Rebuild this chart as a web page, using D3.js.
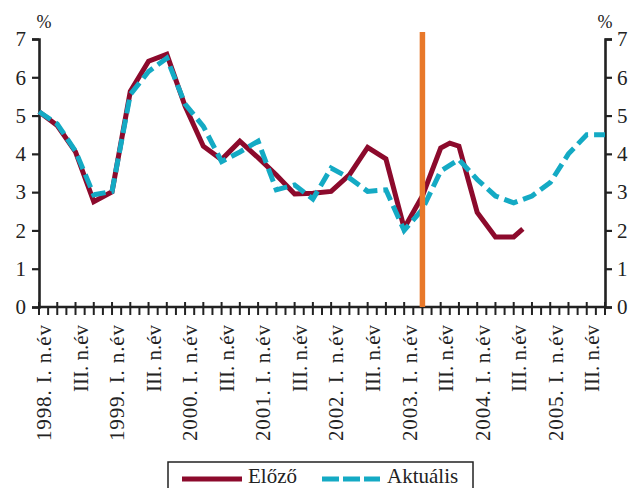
<!DOCTYPE html>
<html>
<head>
<meta charset="utf-8">
<script src="https://cdn.jsdelivr.net/npm/d3@7"></script>
<style>
  body { margin: 0; background: #fff; }
  svg text { font-family: "Liberation Serif", "DejaVu Serif", "Times New Roman", Times, serif !important; fill: #222; }
</style>
</head>
<body>
<svg id="chart" width="636" height="488"></svg>
<script>
// quarter index 0 = 1998 Q1 ... 31 = 2005 Q4
let xLabels = ["1998. I. n.év", "III. n.év", "1999. I. n.év", "III. n.év",
  "2000. I. n.év", "III. n.év", "2001. I. n.év", "III. n.év",
  "2002. I. n.év", "III. n.év", "2003. I. n.év", "III. n.év",
  "2004. I. n.év", "III. n.év", "2005. I. n.év", "III. n.év"];
let yTicks = [0, 1, 2, 3, 4, 5, 6, 7];

// Előző (previous forecast)
let prevQ = [0, 1, 2, 3, 4, 5, 6, 7, 8, 9, 10, 11, 12, 13, 14, 15, 16, 17, 18, 19, 20, 21, 22, 22.5, 23, 24, 25, 26, 26.5];
let prevVals = [5.1, 4.74, 4.05, 2.75, 3.01, 5.63, 6.42, 6.6, 5.25, 4.2, 3.85, 4.33, 3.9, 3.45, 2.95, 2.97, 3.02, 3.45, 4.17, 3.87, 2.06, 2.9, 4.15, 4.28, 4.2, 2.47, 1.83, 1.83, 2.04];

// Aktuális (current forecast)
let currVals = [5.1, 4.78, 4.07, 2.93, 3.02, 5.55, 6.15, 6.5, 5.3, 4.72, 3.8, 4.05, 4.33, 3.06, 3.19, 2.82, 3.63, 3.37, 3.02, 3.06, 2.0, 2.55, 3.55, 3.85, 3.33, 2.9, 2.72, 2.9, 3.25, 4.0, 4.5, 4.5];

let markerQ = 21; // vertical line at 2003 Q2

let svg = d3.select("#chart");
let mLeft = 39, mRight = 605, mTop = 39, mBottom = 307;
let serif = "'Liberation Serif', 'DejaVu Serif', serif";

let x = d3.scaleLinear().domain([0, 31]).range([mLeft, mRight]);
let y = d3.scaleLinear().domain([0, 7]).range([mBottom, mTop]);

// y axes
let yAxisL = d3.axisLeft(y).tickValues(yTicks).tickSize(7).tickPadding(6).tickFormat(d3.format("d"));
let yAxisR = d3.axisRight(y).tickValues(yTicks).tickSize(7).tickPadding(5).tickFormat(d3.format("d"));

let gl = svg.append("g").attr("transform", `translate(${mLeft},0)`).call(yAxisL);
let gr = svg.append("g").attr("transform", `translate(${mRight},0)`).call(yAxisR);
[gl, gr].forEach(g => {
  g.attr("font-family", serif).attr("font-size", 21);
  g.select(".domain").attr("stroke", "#222").attr("stroke-width", 2.6);
  g.selectAll(".tick line").attr("stroke", "#222").attr("stroke-width", 2.2);
  g.selectAll(".tick text").attr("fill", "#222");
});

// x axis line and ticks
let halfTicks = d3.range(0, 31.5, 0.5);
let gx = svg.append("g").attr("font-family", serif);
gx.append("line")
  .attr("x1", mLeft).attr("x2", mRight)
  .attr("y1", mBottom).attr("y2", mBottom)
  .attr("stroke", "#222").attr("stroke-width", 2.6);
gx.selectAll(".xt")
  .data(halfTicks)
  .enter().append("line")
  .attr("class", "xt")
  .attr("x1", d => x(d)).attr("x2", d => x(d))
  .attr("y1", d => d % 1 === 0 ? mBottom - 5 : mBottom)
  .attr("y2", mBottom + 8)
  .attr("stroke", "#222").attr("stroke-width", 2);

let xl = gx.selectAll(".xl")
  .data(xLabels)
  .enter().append("text")
  .attr("class", "xl")
  .attr("transform", (d, i) => `translate(${x(i * 2) + 5},325) rotate(-90)`)
  .attr("dy", "0.35em")
  .attr("text-anchor", "end")
  .attr("font-size", 21)
  .text(d => d);
// year labels are a bit wider in the original
xl.filter(d => /^\d/.test(d))
  .attr("textLength", 116)
  .attr("lengthAdjust", "spacing");

// % units
svg.append("text").attr("x", 44).attr("y", 28).attr("text-anchor", "middle").attr("font-size", 18).text("%");
svg.append("text").attr("x", 605).attr("y", 28).attr("text-anchor", "middle").attr("font-size", 18).text("%");

// lines
let prevData = prevQ.map((q, i) => [q, prevVals[i]]);
let currData = currVals.map((v, i) => [i, v]);
let line = d3.line().x(d => x(d[0])).y(d => y(d[1]));

svg.append("path")
  .datum(prevData)
  .attr("d", line)
  .attr("fill", "none")
  .attr("stroke", "#8C0A2C")
  .attr("stroke-width", 5)
  .attr("stroke-linejoin", "miter");

svg.append("path")
  .datum(currData)
  .attr("d", line)
  .attr("fill", "none")
  .attr("stroke", "#14AAC4")
  .attr("stroke-width", 5)
  .attr("stroke-dasharray", "14,6");

// vertical marker
svg.append("line")
  .attr("x1", x(markerQ)).attr("x2", x(markerQ))
  .attr("y1", 32).attr("y2", mBottom)
  .attr("stroke", "#E8782A").attr("stroke-width", 5.5);

// legend
let lg = svg.append("g").attr("font-family", serif);
lg.append("rect")
  .attr("x", 168).attr("y", 462).attr("width", 305).attr("height", 40)
  .attr("fill", "#fff").attr("stroke", "#222").attr("stroke-width", 1.5);
lg.append("line").attr("x1", 182).attr("x2", 242).attr("y1", 479).attr("y2", 479)
  .attr("stroke", "#8C0A2C").attr("stroke-width", 5);
lg.append("text").attr("x", 248).attr("y", 483).attr("font-size", 21).text("Előző");
lg.append("line").attr("x1", 322).attr("x2", 380).attr("y1", 479).attr("y2", 479)
  .attr("stroke", "#14AAC4").attr("stroke-width", 5).attr("stroke-dasharray", "17,4");
lg.append("text").attr("x", 387).attr("y", 483).attr("font-size", 21).text("Aktuális");
</script>
</body>
</html>
